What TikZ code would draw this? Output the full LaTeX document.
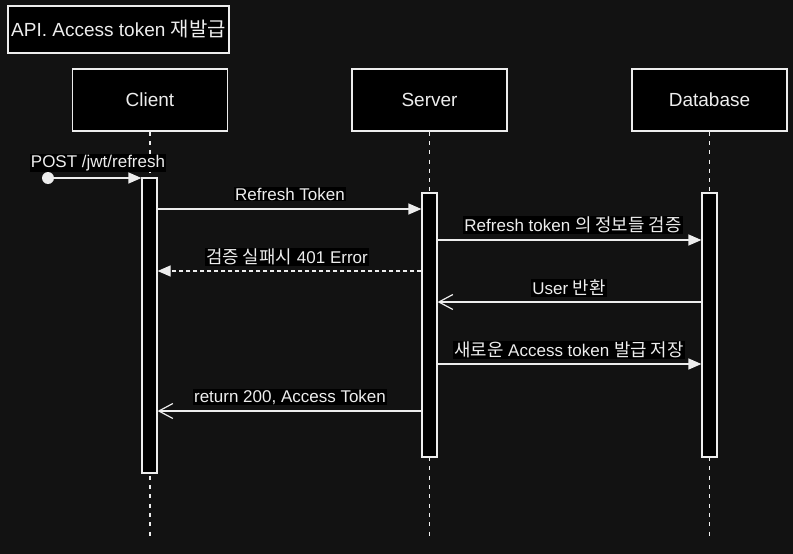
\documentclass[tikz,border=0pt]{standalone}
\usepackage{fontspec}
\setmainfont{Liberation Sans}
\newfontfamily\kr[Scale=1.05]{Noto Sans CJK KR}
\usetikzlibrary{arrows.meta}
\definecolor{bgdark}{HTML}{121212}
\definecolor{ink}{HTML}{EDEDED}

\tikzset{
  actor/.style={draw=ink, fill=black, line width=1.2pt, minimum width=155pt,
    minimum height=62pt, text=ink, font=\fontsize{19}{22}\selectfont},
  bar/.style={draw=ink, fill=black, line width=1.2pt, minimum width=15pt},
  lifeline/.style={draw=ink, line width=1.2pt, dash pattern=on 4pt off 5.3pt},
  msg/.style={draw=ink, line width=1.2pt, -{Triangle[length=13pt,width=11pt]}},
  reply/.style={draw=ink, line width=1.2pt, -{Straight Barb[length=14pt,width=15pt]}},
  lbl/.style={fill=black, text=ink, inner sep=1pt, font=\fontsize{17}{20}\selectfont}
}

\begin{document}
\begin{tikzpicture}[x=1pt, y=-1pt]
  \fill[bgdark] (0,0) rectangle (793,554);
  \useasboundingbox (0,0) rectangle (793,554);

  % title
  \node[actor, minimum width=219pt, minimum height=47pt] at (118.5,29.5) (title)
    {API. Access token {\kr 재발급}};

  % participants
  \node[actor] at (150,100) (client) {Client};
  \node[actor] at (429.5,100) (server) {Server};
  \node[actor] at (709.5,100) (db) {Database};

  \draw[lifeline] (client.south) -- (client.south |- 0,536);
  \draw[lifeline] (server.south) -- (server.south |- 0,536);
  \draw[lifeline] (db.south) -- (db.south |- 0,536);

  % activations
  \node[bar, minimum height=295pt] at (149.5,325.5) (clientbar) {};
  \node[bar, minimum height=264pt] at (429.5,325) (serverbar) {};
  \node[bar, minimum height=264pt] at (709.5,325) (dbbar) {};

  % request
  \fill[ink] (48,178) circle (6pt);
  \coordinate (start) at (48,178);
  \draw[msg] (start) -- (clientbar.west |- start);
  \node[lbl] at (98,163) (postlbl) {POST /jwt/refresh};

  \draw[msg] (clientbar.east |- 0,209) -- (serverbar.west |- 0,209);
  \node[lbl] at (290,194) {Refresh Token};

  \draw[msg] (serverbar.east |- 0,240) -- (dbbar.west |- 0,240);
  \node[lbl] at (573,225) {Refresh token {\kr 의 정보들 검증}};

  \draw[msg, dashed, dash pattern=on 4pt off 3pt] (serverbar.west |- 0,271) -- (clientbar.east |- 0,271);
  \node[lbl] at (287,257) {{\kr 검증 실패시} 401 Error};

  \draw[reply] (dbbar.west |- 0,302) -- (serverbar.east |- 0,302);
  \node[lbl] at (569,288) {User {\kr 반환}};

  \draw[msg] (serverbar.east |- 0,364) -- (dbbar.west |- 0,364);
  \node[lbl] at (569,350) {{\kr 새로운} Access token {\kr 발급 저장}};

  \draw[reply] (serverbar.west |- 0,411) -- (clientbar.east |- 0,411);
  \node[lbl] at (290,397) {return 200, Access Token};
\end{tikzpicture}
\end{document}
